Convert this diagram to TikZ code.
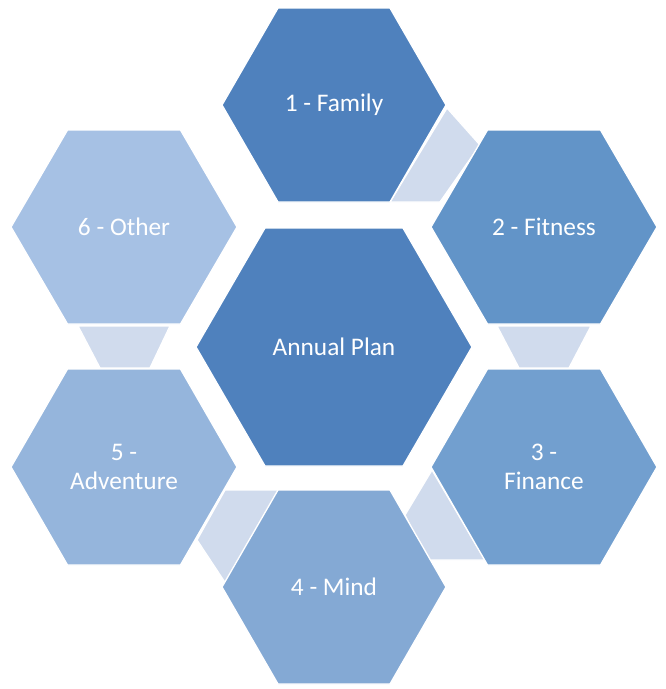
\documentclass[tikz,border=0pt]{standalone}
\usepackage{fontspec}
\setmainfont{Carlito}
\definecolor{cA}{RGB}{79,129,189}
\definecolor{cB}{RGB}{98,148,200}
\definecolor{cC}{RGB}{114,159,207}
\definecolor{cD}{RGB}{132,169,212}
\definecolor{cE}{RGB}{149,181,220}
\definecolor{cF}{RGB}{166,193,228}
\definecolor{cK}{RGB}{208,219,237}
\newcommand{\myhex}[5]{\fill[#5,draw=white,line width=1pt] (#1-#3,#2) -- (#1-#3/2,#2-#4) -- (#1+#3/2,#2-#4) -- (#1+#3,#2) -- (#1+#3/2,#2+#4) -- (#1-#3/2,#2+#4) -- cycle;}
\tikzset{lbl/.style={text=white,font=\fontsize{19}{22}\selectfont,align=center}, conn/.style={fill=cK,draw=white,line width=1pt}}
\begin{document}
\begin{tikzpicture}[x=0.75pt,y=-0.75pt]
\useasboundingbox (0,0) rectangle (666,689);
\filldraw[conn] (390,202) -- (440,202) -- (480,145) -- (447,108) -- cycle;
\filldraw[conn] (497,326) -- (591,326) -- (569,368) -- (519,368) -- cycle;
\filldraw[conn] (78,326) -- (170,326) -- (150,368) -- (100,368) -- cycle;
\filldraw[conn] (432,470) -- (405,515) -- (427,560) -- (485,560) -- cycle;
\filldraw[conn] (225,490) -- (280,490) -- (230,590) -- (197,540) -- cycle;
\myhex{334}{347}{138}{119}{cA}
\myhex{334}{105}{112}{97}{cA}
\myhex{544}{227}{113}{97}{cB}
\myhex{544}{467}{113}{98}{cC}
\myhex{334}{587}{112}{97}{cD}
\myhex{124}{467}{113}{98}{cE}
\myhex{124}{227}{113}{97}{cF}
\node[lbl] (c) at (334,347) {Annual Plan};
\node[lbl] (n1) at (334,105) {1 - Family};
\node[lbl] (n2) at (544,227) {2 - Fitness};
\node[lbl] (n3) at (544,467) {3 -\\Finance};
\node[lbl] (n4) at (334,587) {4 - Mind};
\node[lbl] (n5) at (124,467) {5 -\\Adventure};
\node[lbl] (n6) at (124,227) {6 - Other};
\end{tikzpicture}
\end{document}
